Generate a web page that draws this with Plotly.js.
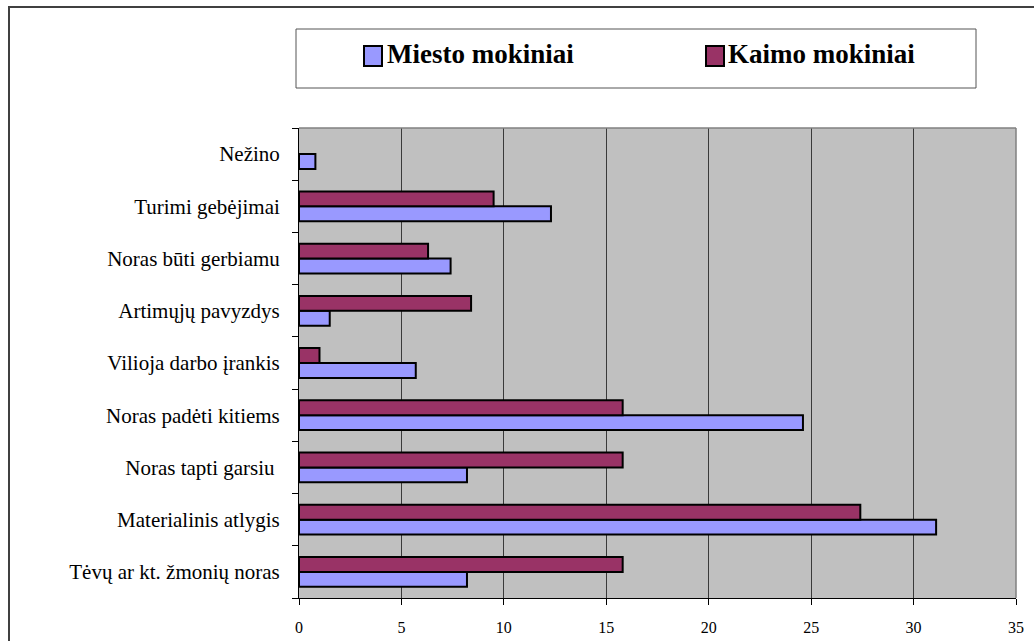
<!DOCTYPE html>
<html>
<head>
<meta charset="utf-8">
<script src="https://cdn.plot.ly/plotly-3.0.1.min.js"></script>
<style>html,body{margin:0;padding:0;background:#fff;}#chart{width:1034px;height:641px;}</style>
</head>
<body>
<div id="chart"></div>
<script>
// Categories, bottom to top
const categories = [
  "Tėvų ar kt. žmonių noras",
  "Materialinis atlygis",
  "Noras tapti garsiu ",
  "Noras padėti kitiems",
  "Vilioja darbo įrankis",
  "Artimųjų pavyzdys",
  "Noras būti gerbiamu",
  "Turimi gebėjimai",
  "Nežino"
];
const miestoValues = [8.2, 31.1, 8.2, 24.6, 5.7, 1.5, 7.4, 12.3, 0.8];
const kaimoValues  = [15.8, 27.4, 15.8, 15.8, 1.0, 8.4, 6.3, 9.5, null];
const seriesNames = ["Miesto mokiniai", "Kaimo mokiniai"];
const xTicks = [0, 5, 10, 15, 20, 25, 30, 35];

const W = 1034, H = 641;
const L = 299, R = 1016, T = 128, B = 598;
const px = x => (x - L) / (R - L);
const py = y => (B - y) / (B - T);

const serif = "Liberation Serif";

const traces = [
  {type: "bar", orientation: "h", name: seriesNames[0], y: categories, x: miestoValues,
   marker: {color: "#9999FF", line: {color: "#000", width: 2}}, hoverinfo: "x+y"},
  {type: "bar", orientation: "h", name: seriesNames[1], y: categories, x: kaimoValues,
   marker: {color: "#993366", line: {color: "#000", width: 2}}, hoverinfo: "x+y"}
];

const layout = {
  width: W, height: H,
  margin: {l: L, r: W - R, t: T, b: H - B, pad: 0},
  paper_bgcolor: "#fff",
  plot_bgcolor: "#C0C0C0",
  barmode: "group",
  bargap: 0.43,
  bargroupgap: 0,
  showlegend: false,
  font: {family: serif, color: "#000"},
  xaxis: {
    range: [0, 35], tickvals: xTicks, ticktext: xTicks.map(String),
    showgrid: true, gridcolor: "#3a3a3a", gridwidth: 1,
    zeroline: false, showline: true, linecolor: "#000", linewidth: 1,
    ticks: "outside", ticklen: 6, tickcolor: "#000", tickwidth: 1,
    tickfont: {family: serif, size: 16, color: "#000"},
    ticklabelstandoff: 9, fixedrange: true
  },
  yaxis: {
    type: "category", categoryorder: "array", categoryarray: categories,
    range: [-0.5, categories.length - 0.5],
    showgrid: false, zeroline: false, showline: true, linecolor: "#000", linewidth: 1,
    ticks: "outside", ticklen: 6, tickcolor: "#000", tickwidth: 1,
    tickson: "boundaries",
    tickfont: {family: serif, size: 21, color: "#000"},
    ticklabelstandoff: 14, fixedrange: true
  },
  shapes: [
    {type: "rect", xref: "paper", yref: "paper", x0: px(9), x1: px(1045), y0: py(7), y1: py(660),
     line: {color: "#404040", width: 2}, fillcolor: "rgba(0,0,0,0)", layer: "above"},
    {type: "line", xref: "paper", yref: "paper", x0: 0, x1: 1, y0: 1, y1: 1, line: {color: "#808080", width: 1.5}},
    {type: "line", xref: "paper", yref: "paper", x0: 1, x1: 1, y0: 0, y1: 1, line: {color: "#808080", width: 1.5}},
    {type: "rect", xref: "paper", yref: "paper", x0: px(296), x1: px(976), y0: py(29), y1: py(88),
     line: {color: "#555", width: 1}, fillcolor: "#fff"},
    {type: "rect", xref: "paper", yref: "paper", x0: px(364), x1: px(382), y0: py(46), y1: py(66),
     line: {color: "#000", width: 2}, fillcolor: "#9999FF"},
    {type: "rect", xref: "paper", yref: "paper", x0: px(706), x1: px(724), y0: py(46), y1: py(66),
     line: {color: "#000", width: 2}, fillcolor: "#993366"}
  ],
  annotations: [
    {xref: "paper", yref: "paper", x: px(385), y: py(54), xanchor: "left", yanchor: "middle",
     text: "<b>" + seriesNames[0] + "</b>", showarrow: false, font: {family: serif, size: 27, color: "#000"}},
    {xref: "paper", yref: "paper", x: px(726), y: py(54), xanchor: "left", yanchor: "middle",
     text: "<b>" + seriesNames[1] + "</b>", showarrow: false, font: {family: serif, size: 27, color: "#000"}}
  ]
};

Plotly.newPlot("chart", traces, layout, {displayModeBar: false, staticPlot: true});
</script>
</body>
</html>
